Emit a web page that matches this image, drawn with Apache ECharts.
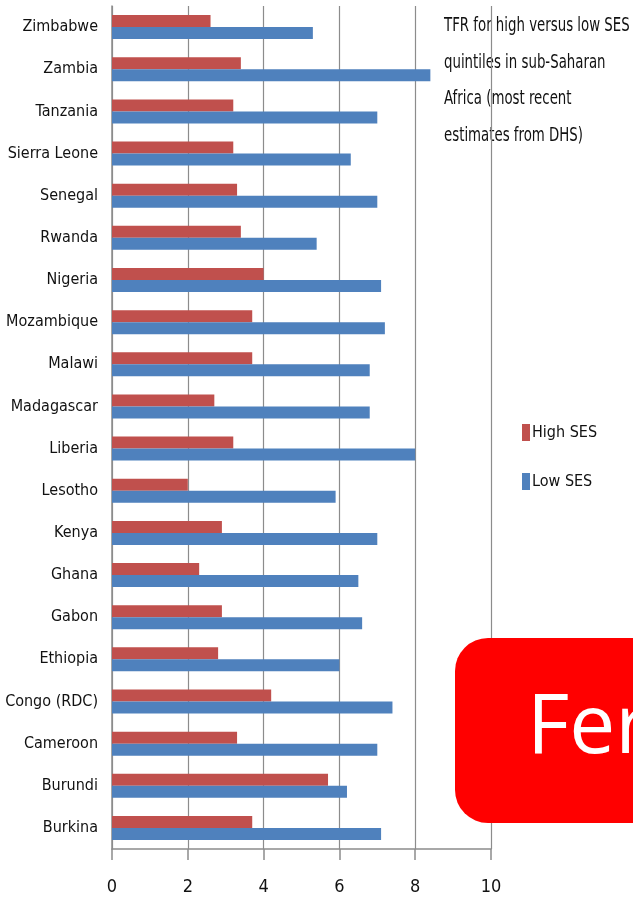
<!DOCTYPE html>
<html>
<head>
<meta charset="UTF-8">
<title>TFR high vs low SES</title>
<script src="https://cdn.jsdelivr.net/npm/echarts@6/dist/echarts.min.js"></script>
<style>
  html, body { margin: 0; padding: 0; background: #fff; }
  #chart { width: 633px; height: 902px; }
</style>
</head>
<body>
<div id="chart"></div>
<script>
// countries, bottom to top
var countries = ['Burkina', 'Burundi', 'Cameroon', 'Congo (RDC)', 'Ethiopia', 'Gabon', 'Ghana', 'Kenya',
    'Lesotho', 'Liberia', 'Madagascar', 'Malawi', 'Mozambique', 'Nigeria', 'Rwanda', 'Senegal',
    'Sierra Leone', 'Tanzania', 'Zambia', 'Zimbabwe'];
var highSES = [3.7, 5.7, 3.3, 4.2, 2.8, 2.9, 2.3, 2.9, 2.0, 3.2, 2.7, 3.7, 3.7, 4.0, 3.4, 3.3, 3.2, 3.2, 3.4, 2.6];
var lowSES  = [7.1, 6.2, 7.0, 7.4, 6.0, 6.6, 6.5, 7.0, 5.9, 8.0, 6.8, 6.8, 7.2, 7.1, 5.4, 7.0, 6.3, 7.0, 8.4, 5.3];
var titleLines = ['TFR for high versus low SES', 'quintiles in sub-Saharan', 'Africa (most recent', 'estimates from DHS)'];

var font = '"DejaVu Sans Condensed", "Liberation Sans Narrow", sans-serif';
var chart = echarts.init(document.getElementById('chart'));

var option = {
    animation: false,
    legend: {
        orient: 'vertical',
        left: 517,
        top: 419,
        itemWidth: 8,
        itemHeight: 17,
        itemGap: 32,
        icon: 'rect',
        data: ['High SES', 'Low SES'],
        textStyle: {
            fontFamily: font,
            fontSize: 16,
            color: '#111',
            lineHeight: 17,
            padding: [0, 0, 0, -3]
        }
    },
    grid: {
        left: 112,
        right: 142,
        top: 6,
        bottom: 53,
        outerBoundsMode: 'none'
    },
    xAxis: {
        type: 'value',
        min: 0,
        max: 10,
        interval: 2,
        axisLine: { show: true, lineStyle: { color: '#8c8c8c', width: 1.5 } },
        axisTick: { show: true, length: 11, lineStyle: { color: '#8c8c8c', width: 1.5 } },
        splitLine: { lineStyle: { color: '#8c8c8c', width: 1.2 } },
        axisLabel: {
            margin: 29,
            fontFamily: font,
            fontSize: 18,
            color: '#111'
        }
    },
    yAxis: {
        type: 'category',
        data: countries,
        axisLine: { lineStyle: { color: '#8c8c8c', width: 1.5 } },
        axisTick: { length: 6, lineStyle: { color: '#8c8c8c', width: 1.5 } },
        axisLabel: {
            margin: 14,
            fontFamily: font,
            fontSize: 16,
            color: '#111'
        }
    },
    series: [
        {
            name: 'High SES',
            type: 'bar',
            data: highSES,
            barWidth: 12,
            barGap: '0%',
            itemStyle: { color: '#c0504d' }
        },
        {
            name: 'Low SES',
            type: 'bar',
            data: lowSES,
            barWidth: 12,
            barGap: '0%',
            itemStyle: { color: '#4f81bd' }
        }
    ],
    graphic: [
        {
            // chart caption, squeezed like the original
            type: 'text',
            x: 444,
            y: 8,
            scaleX: 0.78,
            style: {
                text: titleLines.join('\n'),
                fill: '#111',
                font: '19px ' + font,
                lineHeight: 36.5
            }
        },
        {
            type: 'rect',
            left: 455,
            top: 638,
            shape: { width: 260, height: 185, r: 33 },
            style: { fill: '#ff0000' },
            z: 100
        },
        {
            type: 'text',
            x: 527,
            y: 771,
            style: {
                text: 'Fertility',
                fill: '#ffffff',
                font: '82px "Open Sans", sans-serif',
                textVerticalAlign: 'bottom'
            },
            z: 101
        }
    ]
};
chart.setOption(option);
</script>
</body>
</html>
